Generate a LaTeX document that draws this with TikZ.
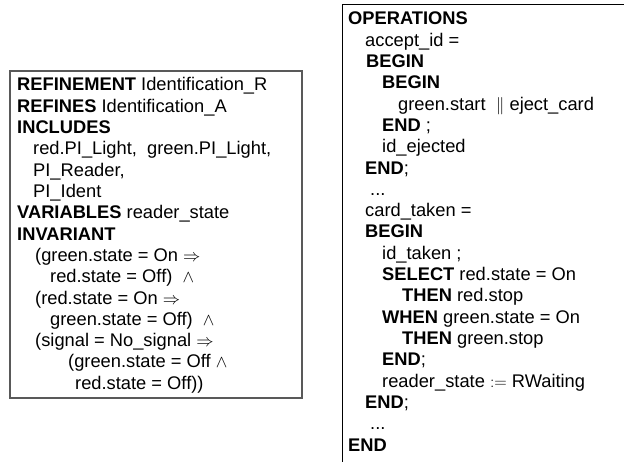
\documentclass[tikz,border=0pt]{standalone}
\usepackage{fontspec}
\setmainfont{Liberation Sans}
\begin{document}
\begin{tikzpicture}[x=1pt,y=1pt,
  txt/.style={anchor=base west, inner sep=0pt, font=\fontsize{18.3}{21.3}\selectfont},
  leftframe/.style={draw=black!65, line width=1.1pt},
  rightframe/.style={draw=black, line width=0.9pt}]
\useasboundingbox (0,0) rectangle (624,461);
% left box
\draw[leftframe] (10,390) rectangle (302,63);
\node[txt] (l1) at (17,370) {\textbf{REFINEMENT} Identification\_R};
\node[txt] (l2) at (17,348.7) {\textbf{REFINES} Identification\_A};
\node[txt] (l3) at (17,327.4) {\textbf{INCLUDES}};
\node[txt] (l4) at (33,306.1) {red.PI\_Light,\ \ green.PI\_Light,};
\node[txt] (l5) at (33,284.8) {PI\_Reader,};
\node[txt] (l6) at (33,263.5) {PI\_Ident};
\node[txt] (l7) at (17,242.2) {\textbf{VARIABLES} reader\_state};
\node[txt] (l8) at (17,220.9) {\textbf{INVARIANT}};
\node[txt] (l9) at (35,199.6) {(green.state = On $\Rightarrow$};
\node[txt] (l10) at (50,178.3) {red.state = Off)\ \ $\wedge$};
\node[txt] (l11) at (35,157) {(red.state = On $\Rightarrow$};
\node[txt] (l12) at (50,135.7) {green.state = Off)\ \ $\wedge$};
\node[txt] (l13) at (35,114.4) {(signal = No\_signal $\Rightarrow$};
\node[txt] (l14) at (68,93.1) {(green.state = Off $\wedge$};
\node[txt] (l15) at (75,71.8) {red.state = Off))};
% right box
\draw[rightframe] (342,-20) -- (342,457) -- (660,457);
\node[txt] (r1) at (348,436) {\textbf{OPERATIONS}};
\node[txt] (r2) at (365,414.7) {accept\_id =};
\node[txt] (r3) at (366,393.4) {\textbf{BEGIN}};
\node[txt] (r4) at (382,372.1) {\textbf{BEGIN}};
\node[txt] (r5) at (398,350.8) {green.start\ \ $\|$ eject\_card};
\node[txt] (r6) at (382,329.5) {\textbf{END} ;};
\node[txt] (r7) at (382,308.2) {id\_ejected};
\node[txt] (r8) at (365,286.9) {\textbf{END};};
\node[txt] (r9) at (370,265.6) {...};
\node[txt] (r10) at (365,244.3) {card\_taken =};
\node[txt] (r11) at (365,223) {\textbf{BEGIN}};
\node[txt] (r12) at (382,201.7) {id\_taken ;};
\node[txt] (r13) at (382,180.4) {\textbf{SELECT} red.state = On};
\node[txt] (r14) at (402,159.1) {\textbf{THEN} red.stop};
\node[txt] (r15) at (382,137.8) {\textbf{WHEN} green.state = On};
\node[txt] (r16) at (402,116.5) {\textbf{THEN} green.stop};
\node[txt] (r17) at (382,95.2) {\textbf{END};};
\node[txt] (r18) at (382,73.9) {reader\_state $:=$ RWaiting};
\node[txt] (r19) at (365,52.6) {\textbf{END};};
\node[txt] (r20) at (370,31.3) {...};
\node[txt] (r21) at (348,10) {\textbf{END}};
\end{tikzpicture}
\end{document}
